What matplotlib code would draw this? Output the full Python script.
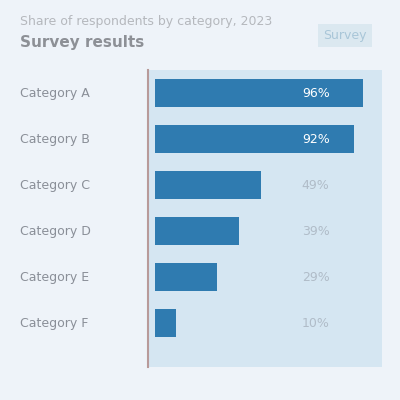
import matplotlib
matplotlib.use("Agg")
import matplotlib.pyplot as plt

categories = ["Category A", "Category B", "Category C", "Category D", "Category E", "Category F"]
values = [96, 92, 49, 39, 29, 10]
value_labels = ["96%", "92%", "49%", "39%", "29%", "10%"]
title_line1 = "Share of respondents by category, 2023"
title_line2 = "Survey results"
badge_text = "Survey"

fig = plt.figure(figsize=(4, 4), dpi=100, facecolor="#eef3f9")
ax = fig.add_axes([0.37, 1 - 367 / 400, 0.585, (367 - 70) / 400])
ax.set_facecolor("#d5e6f2")

y = list(range(len(categories)))
ax.barh(y, values, height=0.6, color="#2f7bb0")
ax.set_ylim(len(categories) - 0.05, -0.5)
ax.set_xlim(-3, 105)

for s in ["top", "right", "bottom"]:
    ax.spines[s].set_visible(False)
ax.spines["left"].set_color("#b89a9a")
ax.spines["left"].set_linewidth(1.5)
ax.set_xticks([])
ax.set_yticks(y)
ax.set_yticklabels([])
ax.tick_params(axis="y", length=0)

for i, (c, lab) in enumerate(zip(categories, value_labels)):
    yy = ax.transData.transform((0, i))[1]
    fig.text(20 / 400, yy / 400, c, ha="left", va="center", fontsize=9, color="#8a8f98")
    col = "#ffffff" if values[i] > 70 else "#b0bcc8"
    ax.text(68, i, lab, ha="left", va="center", fontsize=9, color=col)

fig.text(20 / 400, 1 - 22 / 400, title_line1, ha="left", va="center", fontsize=9, color="#b5b8bd")
fig.text(20 / 400, 1 - 42 / 400, title_line2, ha="left", va="center", fontsize=11,
         fontweight="bold", color="#8d9096")
fig.text(345 / 400, 1 - 35 / 400, badge_text, ha="center", va="center", fontsize=9, color="#a9c6d8",
         bbox=dict(boxstyle="square,pad=0.4", fc="#dbe8f0", ec="none"))

fig.savefig("out.png", dpi=100, facecolor=fig.get_facecolor())
